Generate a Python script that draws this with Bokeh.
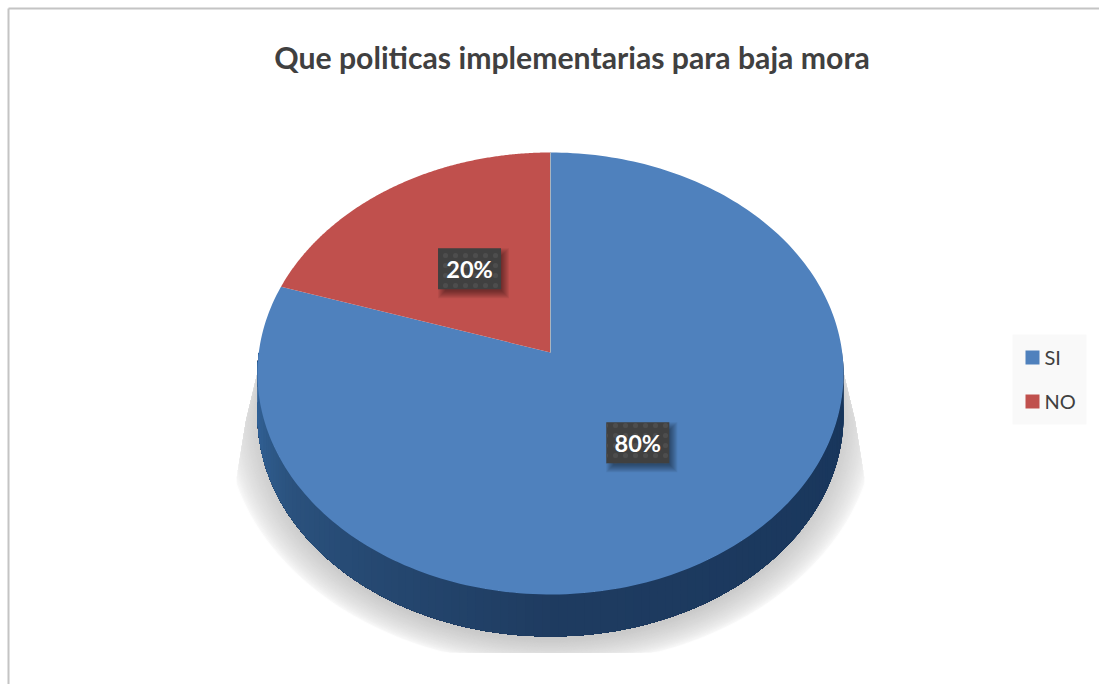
import numpy as np
from bokeh.core.properties import value
from bokeh.embed import file_html
from bokeh.plotting import figure
from bokeh.resources import INLINE

# Chart data
title_text = "Que politicas implementarias para baja mora"
categories = ["SI", "NO"]
shares = [80, 20]
slice_colors = ["#4f81bd", "#c0504d"]

# Pie geometry in page pixels (y grows downward)
CX, CY = 550.0, 352.0
A, B, K = 291.7, 219.0, 0.095
DEPTH = 42.0
FONT = "Lato"
TEXT_DARK = "#404040"


def project(theta, r=1.0):
    """Map a polar point (clockwise from 12 o'clock) onto the tilted pie plane."""
    px = r * np.sin(theta)
    py = r * np.cos(theta)
    d = 1 + K * py
    return CX + A * px / d, CY - B * py / d


p = figure(width=1099, height=684, x_range=(0, 1099), y_range=(684, 0),
           output_backend="svg", toolbar_location=None, min_border=0,
           background_fill_color="white", border_fill_color="white")
p.xaxis.visible = False
p.yaxis.visible = False
p.grid.visible = False
p.outline_line_color = None

# Chart-area border: top and left edges only
p.segment([8, 8], [8, 8], [1099, 8], [8, 684], line_color="#c4c4c4", line_width=2)

# Soft floor shadow under the pie, painted from its faint rim inwards
t_low = np.linspace(0, np.pi, 121)
LAYERS = 32
FLOOR_Y = 652.0
for i in range(LAYERS):
    f = i / (LAYERS - 1)
    rx = 326 - 39 * f
    ry = 246 - 27 * f
    top = 372.0
    cy = 420.0
    ex = 550 + rx * np.cos(t_low)
    ey = np.minimum(cy + ry * np.sin(t_low), FLOOR_Y)
    # keep the flanks inside a narrowing wedge that runs up to the rim
    spread = 23 * np.clip((ey - 350) / 140, 0, 1)
    ex = np.clip(ex, 257 - spread, 843 + spread)
    xs = np.r_[843, ex, 257]
    ys = np.r_[top, ey, top]
    g = int(round(254 - 52 * f ** 0.65))
    p.patch(xs, ys, fill_color=f"#{g:02x}{g:02x}{g:02x}", line_color=None)

# Cumulative slice boundaries, clockwise from 12 o'clock
fractions = np.array(shares, dtype=float) / sum(shares)
edges = np.r_[0, np.cumsum(fractions)] * 2 * np.pi

# Side wall: overlapping facets along the front of the rim, shaded left to right
wall_t = np.linspace(np.pi * 0.5, np.pi * 1.5, 121)
wall_stops = [0.0, 0.18, 0.5, 1.0]
wall_r = [0x35, 0x2b, 0x1f, 0x18]
wall_g = [0x68, 0x52, 0x3c, 0x36]
wall_b = [0xa0, 0x7e, 0x61, 0x5c]
wx, wy = project(wall_t)
for i in range(len(wall_t) - 1):
    u = 1 - (i + 0.5) / (len(wall_t) - 1)
    c = "#%02x%02x%02x" % (int(np.interp(u, wall_stops, wall_r)),
                           int(np.interp(u, wall_stops, wall_g)),
                           int(np.interp(u, wall_stops, wall_b)))
    # each facet runs on to the end of the rim so no seams show between them
    xs = np.r_[wx[i:], wx[i:][::-1]]
    ys = np.r_[wy[i:], (wy[i:] + DEPTH)[::-1]]
    p.patch(xs, ys, fill_color=c, line_color=None)

# Top face of the pie
for start, stop, color in zip(edges[:-1], edges[1:], slice_colors):
    t = np.linspace(start, stop, 240)
    x, y = project(t)
    p.patch(np.r_[CX, x, CX], np.r_[CY, y, CY], fill_color=color, line_color=None)

# Pale seam on the 12 o'clock boundary
sx, sy = project(np.array([0.0]))
p.segment([CX], [CY], sx, sy, line_color="#a9b4bf", line_width=1)

# Percentage labels on dark hatched plates with a soft drop shadow
BOX_W, BOX_H = 63, 41
for start, stop, share in zip(edges[:-1], edges[1:], shares):
    mx, my = project(np.array([(start + stop) / 2]), 0.49)
    mx, my = float(mx[0]), float(my[0])
    for j in range(8, 0, -1):
        p.quad(left=mx - BOX_W / 2 + 8 - j, right=mx + BOX_W / 2 + j,
               top=my - BOX_H / 2 + 8 - j, bottom=my + BOX_H / 2 + 1 + j,
               fill_color="black", fill_alpha=0.06, line_color=None)
    p.quad(left=mx - BOX_W / 2, right=mx + BOX_W / 2,
           top=my - BOX_H / 2, bottom=my + BOX_H / 2,
           fill_color="#404040", line_color=None,
           hatch_pattern="dot", hatch_color="#4d4d4d", hatch_scale=10, hatch_weight=3)
    p.text([mx], [my], text=[f"{share}%"], text_color="white",
           text_font=value(FONT), text_font_style="bold", text_font_size="23.5px",
           text_align="center", text_baseline="middle")

# Title
p.text([571.5], [56], text=[title_text], text_color=TEXT_DARK,
       text_font=value(FONT), text_font_style="bold", text_font_size="30.2px",
       text_align="center", text_baseline="middle")

# Legend panel
p.quad(left=1012, right=1086, top=334, bottom=424, fill_color="#f9f9f9", line_color=None)
for k, (name, color) in enumerate(zip(categories, slice_colors)):
    yc = 357 + 44 * k
    p.quad(left=1025, right=1039, top=yc - 7, bottom=yc + 7, fill_color=color, line_color=None)
    p.text([1044], [yc - 1], text=[name], text_color=TEXT_DARK,
           text_font=value(FONT), text_font_size="20px",
           text_align="left", text_baseline="middle")

open("out.html", "w").write(file_html(p, INLINE))
